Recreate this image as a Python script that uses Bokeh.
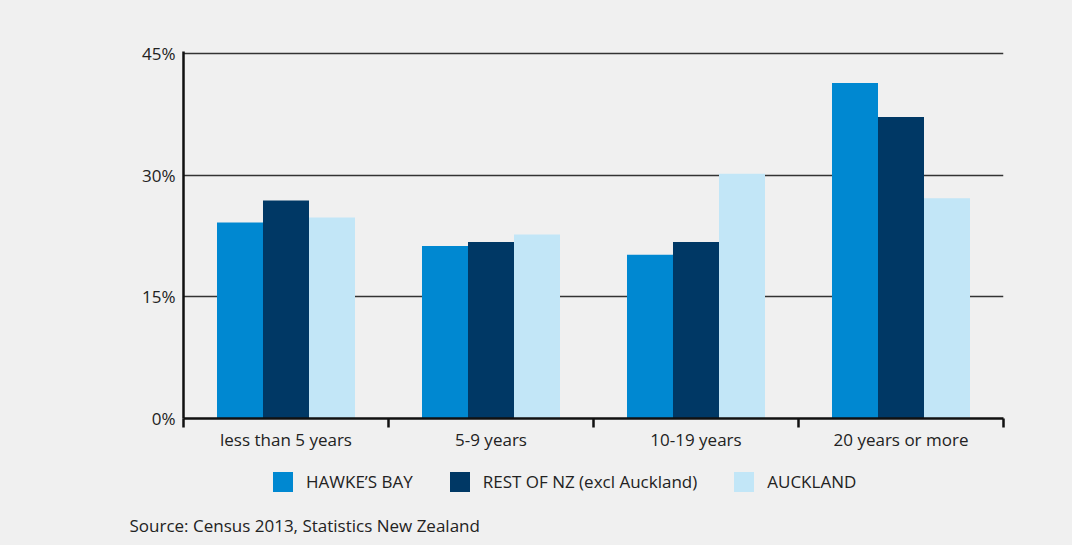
from bokeh.plotting import figure
from bokeh.layouts import column
from bokeh.models import Range1d, FixedTicker, Title, Legend, LegendItem, ColumnDataSource
from bokeh.embed import file_html
from bokeh.resources import INLINE

categories = ["less than 5 years", "5-9 years", "10-19 years", "20 years or more"]
hawkes_bay = [24.2, 21.3, 20.2, 41.4]
rest_of_nz = [26.9, 21.8, 21.8, 37.2]
auckland = [24.8, 22.7, 30.2, 27.2]
series_names = ["HAWKE\u2019S BAY", "REST OF NZ (excl Auckland)", "AUCKLAND"]
series_colors = ["#0088d1", "#003865", "#c2e6f7"]
y_ticks = [0, 15, 30, 45]
y_labels = ["0%", "15%", "30%", "45%"]
source_text = "Source: Census 2013, Statistics New Zealand"

FONT = "Open Sans"
FS = "17px"
TXT = "#222222"
BG = "#f0f0f0"

p = figure(width=1072, height=458, output_backend="svg", toolbar_location=None,
           x_range=Range1d(0, len(categories)), y_range=Range1d(0, 45.3),
           min_border_left=183, min_border_right=69, min_border_top=51, min_border_bottom=40)
p.background_fill_color = BG
p.border_fill_color = BG
p.outline_line_color = None

bar_w = 0.2244
offsets = [-bar_w, 0.0, bar_w]
all_series = [hawkes_bay, rest_of_nz, auckland]
for vals, name, col, off in zip(all_series, series_names, series_colors, offsets):
    src = ColumnDataSource(dict(x=[i + 0.5 + off for i in range(len(categories))], top=vals))
    p.vbar(x="x", top="top", width=bar_w, source=src, fill_color=col, line_color=None)

# grid
p.xgrid.visible = False
p.ygrid.ticker = FixedTicker(ticks=y_ticks)
p.ygrid.grid_line_color = "#333333"
p.ygrid.grid_line_width = 1.5

# y axis
p.yaxis.ticker = FixedTicker(ticks=y_ticks)
p.yaxis.major_label_overrides = {t: l for t, l in zip(y_ticks, y_labels)}
p.yaxis.axis_line_width = 2.5
p.yaxis.axis_line_color = "#111111"
p.yaxis.major_tick_out = 0
p.yaxis.major_tick_in = 0
p.yaxis.minor_tick_out = 0
p.yaxis.minor_tick_in = 0
p.yaxis.major_label_standoff = 8
p.yaxis.major_label_text_font = FONT
p.yaxis.major_label_text_font_size = FS
p.yaxis.major_label_text_color = TXT

# x axis
p.xaxis.ticker = FixedTicker(ticks=[i + 0.5 for i in range(len(categories))],
                             minor_ticks=list(range(len(categories) + 1)))
p.xaxis.major_label_overrides = {i + 0.5: c for i, c in enumerate(categories)}
p.xaxis.axis_line_width = 2.5
p.xaxis.axis_line_color = "#111111"
p.xaxis.major_tick_out = 0
p.xaxis.major_tick_in = 0
p.xaxis.minor_tick_out = 9
p.xaxis.minor_tick_in = 0
p.xaxis.minor_tick_line_width = 2.5
p.xaxis.minor_tick_line_color = "#111111"
p.xaxis.major_label_standoff = 0
p.xaxis.major_label_text_font = FONT
p.xaxis.major_label_text_font_size = FS
p.xaxis.major_label_text_color = TXT

# bottom strip: legend + source note
p2 = figure(width=1072, height=87, output_backend="svg", toolbar_location=None,
            x_range=Range1d(0, 1), y_range=Range1d(0, 1),
            x_axis_location=None, y_axis_location=None,
            min_border_left=183, min_border_right=69, min_border_top=0, min_border_bottom=40)
p2.background_fill_color = BG
p2.border_fill_color = BG
p2.outline_line_color = None
p2.grid.visible = False

items = []
for name, col in zip(series_names, series_colors):
    # zero-height placeholder so the legend has a glyph to draw its swatch from
    r = p2.vbar(x=[0.5], top=[0], bottom=[0], width=0.01, fill_color=col, line_color=None)
    items.append(LegendItem(label=name, renderers=[r]))

legend = Legend(items=items, orientation="horizontal", location=(79, 1),
                glyph_width=25, glyph_height=25, label_standoff=11, spacing=34,
                label_text_font=FONT, label_text_font_size=FS, label_text_color=TXT,
                background_fill_color=BG, background_fill_alpha=0,
                border_line_alpha=0, margin=0, padding=8)
p2.add_layout(legend)

title = Title(text=source_text, align="left", offset=-54, standoff=17,
              text_font=FONT, text_font_size=FS, text_font_style="normal",
              text_color=TXT, background_fill_color=None)
p2.add_layout(title, "below")

layout = column(p, p2, spacing=0, styles={"background-color": BG})
open("out.html", "w").write(file_html(layout, INLINE))
